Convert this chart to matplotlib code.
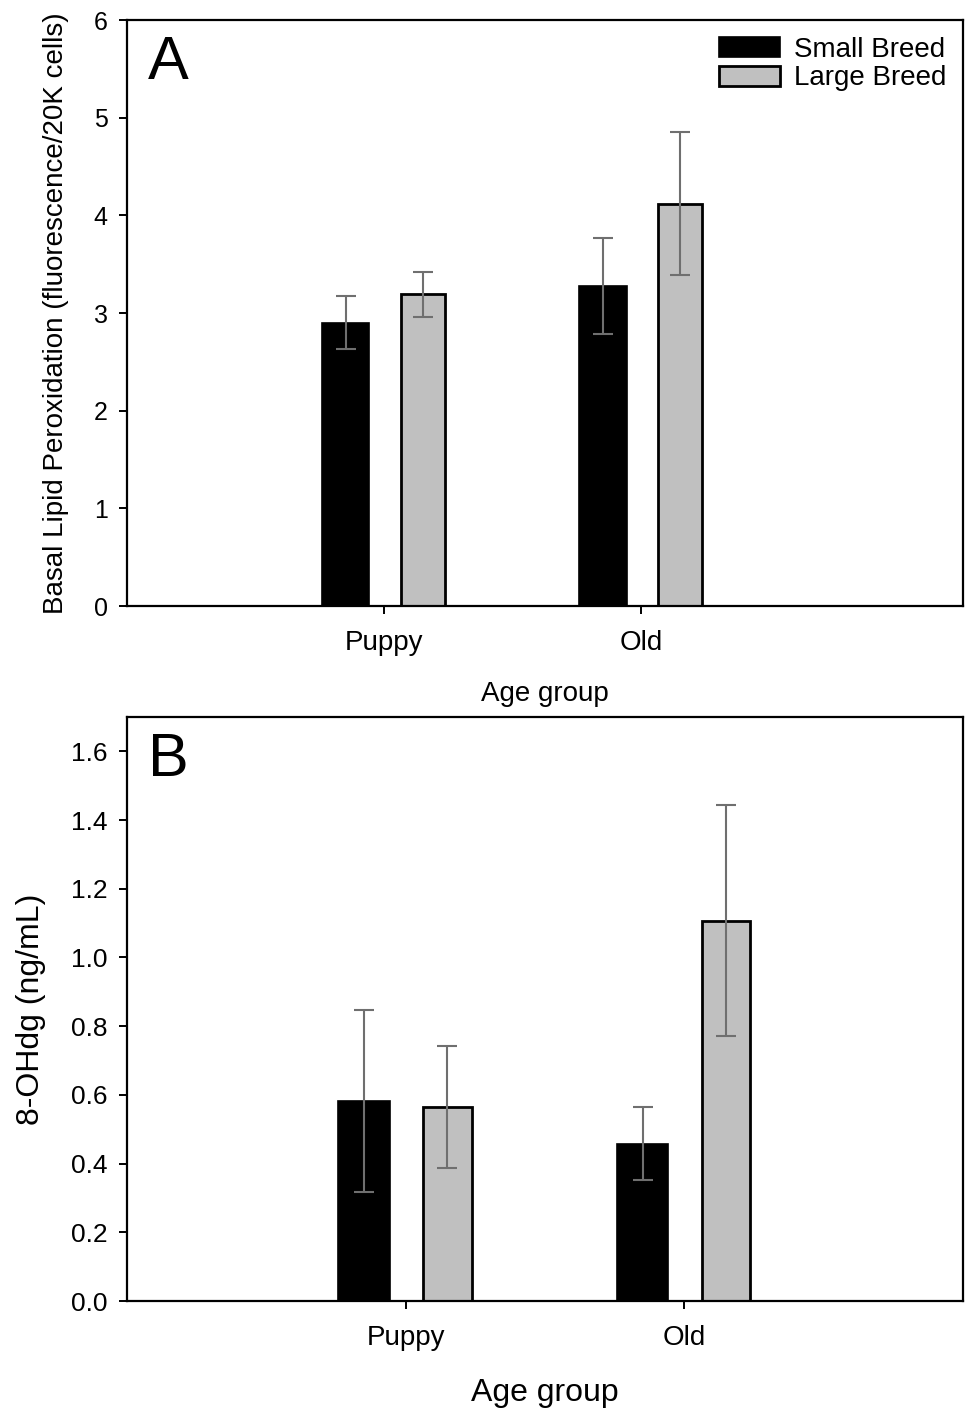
import matplotlib
matplotlib.use("Agg")
import matplotlib.pyplot as plt
import numpy as np

# ---- data ----
groups = ["Puppy", "Old"]
series = ["Small Breed", "Large Breed"]

lipid_small = [2.90, 3.28]
lipid_small_err = [0.27, 0.49]
lipid_large = [3.19, 4.12]
lipid_large_err = [0.23, 0.73]

ohdg_small = [0.583, 0.458]
ohdg_small_err = [0.265, 0.107]
ohdg_large = [0.564, 1.107]
ohdg_large_err = [0.178, 0.336]

plt.rcParams.update(
    {
        "font.family": ["Liberation Sans", "DejaVu Sans"],
        "axes.linewidth": 1.6,
        "xtick.major.width": 1.4,
        "ytick.major.width": 1.4,
        "xtick.major.size": 6,
        "ytick.major.size": 6,
        "xtick.direction": "out",
        "ytick.direction": "out",
    }
)

SMALL_COLOR = "black"
LARGE_COLOR = "#c0c0c0"
ERR_COLOR = "#6f6f6f"
OFFSET = 0.15
WIDTH = 0.185


def draw_panel(ax, small, small_err, large, large_err, letter, ylabel,
               xlim, ylim, yticks, yfmt, tick_fs, ylabel_fs, ylabel_pad,
               xlabel_fs, xlabel_pad, legend):
    x = np.arange(1, len(groups) + 1)
    ax.bar(x - OFFSET, small, WIDTH, color=SMALL_COLOR, edgecolor="black",
           linewidth=1.2, label=series[0], zorder=2)
    ax.bar(x + OFFSET, large, WIDTH - 0.012, color=LARGE_COLOR, edgecolor="black",
           linewidth=2.0, label=series[1], zorder=2)
    err_kw = dict(fmt="none", ecolor=ERR_COLOR, elinewidth=1.5, capsize=7,
                  capthick=1.5, zorder=3)
    ax.errorbar(x - OFFSET, small, yerr=small_err, **err_kw)
    ax.errorbar(x + OFFSET, large, yerr=large_err, **err_kw)

    ax.set_xlim(*xlim)
    ax.set_ylim(*ylim)
    ax.set_xticks(x)
    ax.set_xticklabels(groups, fontsize=20)
    ax.set_yticks(yticks)
    ax.set_yticklabels([yfmt.format(v) for v in yticks], fontsize=tick_fs)
    ax.tick_params(axis="x", pad=11)
    ax.tick_params(axis="y", pad=8)
    ax.set_xlabel("Age group", fontsize=xlabel_fs, labelpad=xlabel_pad)
    ax.set_ylabel(ylabel, fontsize=ylabel_fs, labelpad=ylabel_pad)
    ax.text(0.025, 0.975, letter, transform=ax.transAxes, fontsize=44,
            ha="left", va="top")
    if legend:
        ax.legend(loc="upper right", frameon=False, fontsize=20,
                  handlelength=2.2, handleheight=0.75, handletextpad=0.5,
                  labelspacing=0.1, borderaxespad=0.2)


fig = plt.figure(figsize=(9.66, 14.12), dpi=100)
ax_a = fig.add_axes([0.1315, 0.5708, 0.8654, 0.415])
ax_b = fig.add_axes([0.1315, 0.0786, 0.8654, 0.4136])

draw_panel(ax_a, lipid_small, lipid_small_err, lipid_large, lipid_large_err,
           "A", "Basal Lipid Peroxidation (fluorescence/20K cells)",
           (0, 3.25), (0, 6), [0, 1, 2, 3, 4, 5, 6], "{:.0f}",
           18, 20, 18, 20, 18, True)
draw_panel(ax_b, ohdg_small, ohdg_small_err, ohdg_large, ohdg_large_err,
           "B", "8-OHdg (ng/mL)",
           (0, 3.0), (0, 1.7), [0.0, 0.2, 0.4, 0.6, 0.8, 1.0, 1.2, 1.4, 1.6], "{:.1f}",
           19, 23, 18, 23, 20, False)

fig.savefig("out.png", dpi=100, facecolor="white")
